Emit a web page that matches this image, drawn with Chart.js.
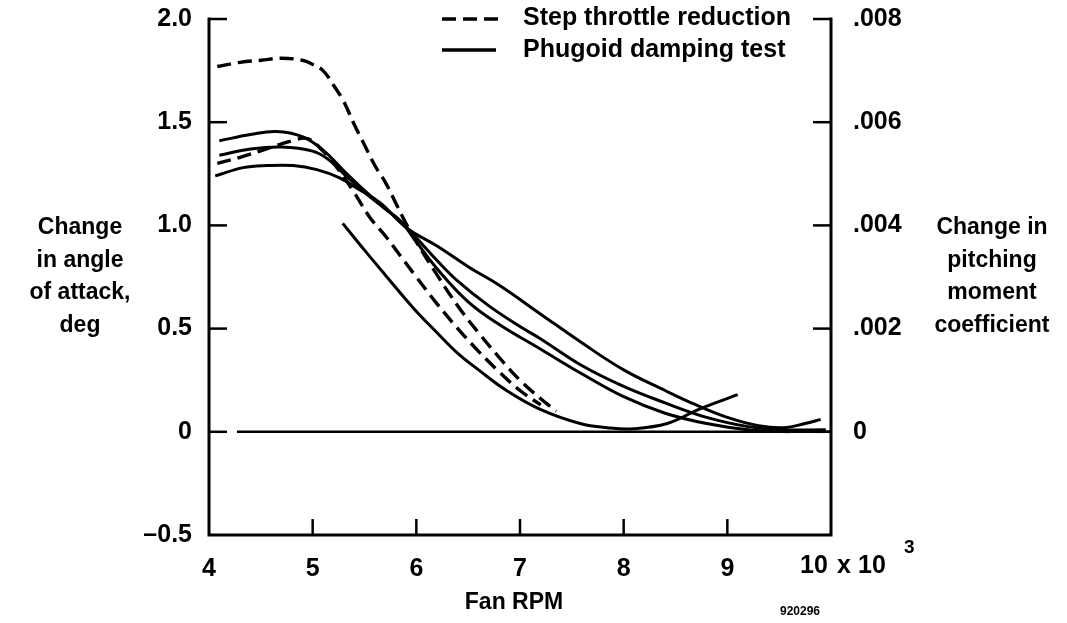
<!DOCTYPE html>
<html>
<head>
<meta charset="utf-8">
<script src="https://cdn.jsdelivr.net/npm/chart.js@4.4.1/dist/chart.umd.min.js"></script>
<style>
html,body{margin:0;padding:0;background:#fff;}
canvas{display:block;}
</style>
</head>
<body>
<canvas id="c" width="1067" height="623"></canvas>
<script>
// ---- Data (Fan RPM in thousands, change in angle of attack in deg) ----
const stepA_rpm = [4.08,4.3,4.5,4.7,4.9,5.0,5.1,5.2,5.3,5.4,5.5,5.6,5.7,5.8,5.9,6.0,6.2,6.4,6.6,6.8,7.0,7.2,7.35];
const stepA_val = [1.77,1.79,1.80,1.81,1.80,1.78,1.75,1.68,1.60,1.49,1.39,1.29,1.21,1.11,1.01,0.92,0.76,0.61,0.48,0.36,0.25,0.16,0.10];

const stepB_rpm = [4.08,4.3,4.55,4.8,4.95,5.1,5.25,5.4,5.55,5.7,5.85,6.0,6.2,6.4,6.6,6.8,7.0,7.2];
const stepB_val = [1.30,1.33,1.37,1.41,1.42,1.36,1.27,1.16,1.04,0.95,0.85,0.75,0.62,0.50,0.39,0.29,0.20,0.13];

const phugA_rpm = [4.1,4.4,4.65,4.9,5.1,5.3,5.52,5.7,5.85,6.0,6.2,6.5,6.8,7.2,7.6,8.0,8.4,8.8,9.2,9.6];
const phugA_val = [1.41,1.44,1.455,1.43,1.365,1.265,1.16,1.08,1.02,0.92,0.79,0.63,0.52,0.40,0.28,0.17,0.09,0.04,0.01,0.0];

const phugB_rpm = [4.1,4.4,4.7,5.0,5.15,5.3,5.5,5.7,5.85,6.0,6.2,6.4,6.7,7.0,7.2,7.6,8.0,8.4,8.8,9.2,9.5,9.95];
const phugB_val = [1.34,1.37,1.38,1.36,1.32,1.25,1.16,1.08,1.02,0.94,0.83,0.73,0.61,0.51,0.45,0.32,0.22,0.14,0.07,0.025,0.01,0.01];

const phugC_rpm = [4.06,4.33,4.56,4.81,5.04,5.26,5.46,5.65,5.9,6.2,6.5,6.8,7.2,7.6,8.0,8.4,8.7,9.0,9.3,9.55,9.75,9.9];
const phugC_val = [1.24,1.28,1.29,1.29,1.27,1.23,1.17,1.11,0.99,0.90,0.80,0.71,0.57,0.43,0.30,0.20,0.13,0.07,0.03,0.02,0.04,0.06];

const phugD_rpm = [5.29,5.5,5.7,5.97,6.2,6.4,6.6,6.87,7.19,7.58,7.84,8.1,8.42,8.73,9.1];
const phugD_val = [1.01,0.88,0.76,0.60,0.48,0.38,0.30,0.20,0.11,0.04,0.02,0.015,0.04,0.11,0.18];

const zero_rpm = [4.27,10];
const zero_val = [0,0];

const xTickValues = [4,5,6,7,8,9,10];
const yTickLabels = {"2":"2.0","1.5":"1.5","1":"1.0","0.5":"0.5","0":"0","-0.5":"\u20130.5"};
const y2TickLabels = {"8":".008","6":".006","4":".004","2":".002","0":"0"};
const leftTitle = ["Change","in angle","of attack,","deg"];
const rightTitle = ["Change in","pitching","moment","coefficient"];
const legendLabels = ["Step throttle reduction","Phugoid damping test"];
const xTitle = "Fan RPM";
const figId = "920296";

// ---- helpers ----
const pts = (xs, ys) => xs.map((x,i)=>({x:x,y:ys[i]}));
const FONT = "'Liberation Sans', Arial, Helvetica, sans-serif";
const DASH = [14,7];

function ds(xs, ys, dashed, w){
  return {
    data: pts(xs, ys),
    showLine: true,
    borderColor: '#000',
    borderWidth: w || (dashed ? 3.4 : 3),
    borderDash: dashed ? DASH : [],
    pointRadius: 0,
    tension: 0.4,
    fill: false,
    yAxisID: 'y'
  };
}

const framePlugin = {
  id: 'frame',
  afterDraw(chart){
    const ctx = chart.ctx;
    const a = chart.chartArea;
    const xs = chart.scales.x, ys = chart.scales.y, y2 = chart.scales.y2;
    ctx.save();
    ctx.strokeStyle = '#000';
    ctx.lineCap = 'square';
    ctx.lineWidth = 3;
    ctx.beginPath();
    ctx.moveTo(a.left, a.top); ctx.lineTo(a.left, a.bottom); ctx.lineTo(a.right, a.bottom); ctx.lineTo(a.right, a.top);
    ctx.stroke();
    ctx.lineWidth = 2.5;
    ctx.lineCap = 'butt';
    // inward ticks
    [2,1.5,1,0.5,0].forEach(v=>{
      const p = ys.getPixelForValue(v);
      ctx.beginPath(); ctx.moveTo(a.left, p); ctx.lineTo(a.left+18, p); ctx.stroke();
    });
    [0.008,0.006,0.004,0.002,0].forEach(v=>{
      const p = y2.getPixelForValue(v);
      ctx.beginPath(); ctx.moveTo(a.right, p); ctx.lineTo(a.right-18, p); ctx.stroke();
    });
    [5,6,7,8,9].forEach(v=>{
      const p = xs.getPixelForValue(v);
      ctx.beginPath(); ctx.moveTo(p, a.bottom); ctx.lineTo(p, a.bottom-16); ctx.stroke();
    });
    // "10 x 10^3" label
    ctx.fillStyle = '#000';
    ctx.font = "bold 25px " + FONT;
    ctx.textAlign = 'left';
    ctx.textBaseline = 'middle';
    const x10 = xs.getPixelForValue(10);
    const ly = a.bottom + 31;
    ctx.fillText("10", x10 - 31, ly);
    ctx.fillText("x", x10 + 6, ly);
    ctx.fillText("10", x10 + 27, ly);
    ctx.font = "bold 19px " + FONT;
    ctx.fillText("3", x10 + 73, ly - 18);
    // axis titles
    ctx.font = "bold 23px " + FONT;
    ctx.textAlign = 'center';
    leftTitle.forEach((t,i)=> ctx.fillText(t, 80, 228 + i*32.5));
    rightTitle.forEach((t,i)=> ctx.fillText(t, 992, 228 + i*32.5));
    ctx.fillText(xTitle, 514, 603);
    ctx.font = "bold 12px " + FONT;
    ctx.fillText(figId, 800, 612);
    // legend
    ctx.textAlign = 'left';
    ctx.font = "bold 25px " + FONT;
    ctx.lineWidth = 3.4;
    ctx.setLineDash(DASH);
    ctx.beginPath(); ctx.moveTo(442, 19); ctx.lineTo(498, 19); ctx.stroke();
    ctx.setLineDash([]);
    ctx.beginPath(); ctx.moveTo(442, 50); ctx.lineTo(496, 50); ctx.stroke();
    ctx.fillText(legendLabels[0], 523, 18);
    ctx.fillText(legendLabels[1], 523, 50);
    ctx.restore();
  }
};

new Chart(document.getElementById('c'), {
  type: 'scatter',
  data: {
    datasets: [
      ds(zero_rpm, zero_val, false, 2.6),
      ds(stepA_rpm, stepA_val, true),
      ds(stepB_rpm, stepB_val, true),
      ds(phugA_rpm, phugA_val, false),
      ds(phugB_rpm, phugB_val, false),
      ds(phugC_rpm, phugC_val, false),
      ds(phugD_rpm, phugD_val, false)
    ]
  },
  options: {
    responsive: false,
    animation: false,
    layout: { padding: { top: 19, left: 0, right: 0, bottom: 0 } },
    plugins: { legend: { display: false }, tooltip: { enabled: false } },
    scales: {
      x: {
        type: 'linear', min: 4, max: 10,
        afterBuildTicks: s => { s.ticks = xTickValues.map(v=>({value:v})); },
        ticks: {
          autoSkip: false, maxRotation: 0, color: '#000', padding: 19,
          font: { family: FONT, size: 25, weight: 'bold' },
          callback: v => v === 10 ? '' : String(v)
        },
        grid: { display: false, drawTicks: false },
        border: { display: false },
        afterFit: s => { s.height = 88; s.paddingLeft = 0; s.paddingRight = 0; }
      },
      y: {
        type: 'linear', position: 'left', min: -0.5, max: 2.0,
        ticks: {
          stepSize: 0.5, color: '#000', padding: 17,
          font: { family: FONT, size: 25, weight: 'bold' },
          callback: v => yTickLabels[String(Math.round(v*2)/2)] || ''
        },
        grid: { display: false, drawTicks: false },
        border: { display: false },
        afterFit: s => { s.width = 209; s.paddingTop = 0; s.paddingBottom = 0; }
      },
      y2: {
        type: 'linear', position: 'right', min: -0.002, max: 0.008,
        ticks: {
          stepSize: 0.002, color: '#000', padding: 22,
          font: { family: FONT, size: 25, weight: 'bold' },
          callback: v => y2TickLabels[String(Math.round(v*1000))] || ''
        },
        grid: { display: false, drawTicks: false },
        border: { display: false },
        afterFit: s => { s.width = 236; s.paddingTop = 0; s.paddingBottom = 0; }
      }
    }
  },
  plugins: [framePlugin]
});
</script>
</body>
</html>
